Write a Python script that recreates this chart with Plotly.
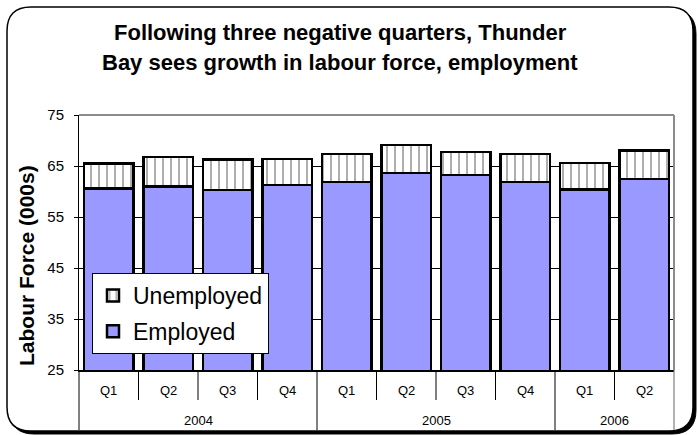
import plotly.graph_objects as go

# Quarterly labour force figures for Thunder Bay (thousands)
quarters = ["Q1", "Q2", "Q3", "Q4", "Q1", "Q2", "Q3", "Q4", "Q1", "Q2"]
years = ["2004", "2004", "2004", "2004", "2005", "2005", "2005", "2005", "2006", "2006"]
employed = [60.6, 61.0, 60.3, 61.3, 61.9, 63.6, 63.2, 61.9, 60.4, 62.5]
unemployed = [4.9, 5.8, 6.0, 5.1, 5.5, 5.5, 4.5, 5.5, 5.2, 5.5]

y_ticks = [25, 35, 45, 55, 65, 75]

FONT = "Liberation Sans, Arial, sans-serif"
W, H = 698, 435
ML, MR, MT, MB = 79, 24, 115, 65
PW, PH = W - ML - MR, H - MT - MB
n = len(quarters)
xpos = list(range(n))


def px(x):
    return (x - ML) / PW


def py(y):
    return (H - MB - y) / PH


def rounded_rect(x0, y0, x1, y1, r):
    pts = [
        ("M", [(x0 + r, y0)]),
        ("L", [(x1 - r, y0)]),
        ("Q", [(x1, y0), (x1, y0 + r)]),
        ("L", [(x1, y1 - r)]),
        ("Q", [(x1, y1), (x1 - r, y1)]),
        ("L", [(x0 + r, y1)]),
        ("Q", [(x0, y1), (x0, y1 - r)]),
        ("L", [(x0, y0 + r)]),
        ("Q", [(x0, y0), (x0 + r, y0)]),
    ]
    s = ""
    for cmd, coords in pts:
        s += cmd + " " + " ".join(f"{px(a):.5f},{py(b):.5f}" for a, b in coords) + " "
    return s + "Z"


fig = go.Figure()
fig.add_trace(go.Bar(
    x=xpos, y=employed, name="Employed", legendgroup="emp", legendrank=2,
    marker=dict(color="#9999FF", line=dict(color="black", width=2.5)),
))
fig.add_trace(go.Bar(
    x=xpos, y=unemployed, name="Unemployed", legendgroup="unemp", legendrank=1,
    marker=dict(color="white", line=dict(color="black", width=2.5),
                pattern=dict(shape="|", size=8, solidity=0.2,
                             fgcolor="#333333", bgcolor="white")),
))

shapes = []
# chart frame with drop shadow
shapes.append(dict(type="path", xref="paper", yref="paper", layer="below",
                   path=rounded_rect(10, 10, 696, 434, 24),
                   fillcolor="black", line=dict(color="black", width=1)))
shapes.append(dict(type="path", xref="paper", yref="paper", layer="below",
                   path=rounded_rect(7, 7, 693, 431, 24),
                   fillcolor="white", line=dict(color="black", width=1.5)))
# plot area border (top and right)
shapes.append(dict(type="line", xref="paper", yref="paper", x0=0, x1=1, y0=1, y1=1,
                   line=dict(color="#8c8c8c", width=2)))
shapes.append(dict(type="line", xref="paper", yref="paper", x0=1, x1=1, y0=0, y1=1,
                   line=dict(color="#8c8c8c", width=2)))


# category separators: quarter level short, year level full depth
def bx(i):
    # boundary to the right of category i, on an axis spanning [-0.5, n-0.5]
    return (i + 1) / n


year_bounds = [-1]
for i in range(1, n):
    if years[i] != years[i - 1]:
        year_bounds.append(i - 1)
year_bounds.append(n - 1)
for i in range(-1, n):
    if i in year_bounds:
        y_end = py(430)
        col = "#666666" if i == n - 1 else "black"
    else:
        y_end = py(400)
        col = "black"
    shapes.append(dict(type="line", xref="paper", yref="paper",
                       x0=bx(i), x1=bx(i), y0=0, y1=y_end,
                       line=dict(color=col, width=1)))

annotations = []
for i, q in enumerate(quarters):
    annotations.append(dict(x=i, y=py(390), xref="x", yref="paper", text=q,
                            showarrow=False, yanchor="middle",
                            font=dict(family=FONT, size=13, color="black")))
groups = {}
for i, yr in enumerate(years):
    groups.setdefault(yr, []).append(i)
for yr, idx in groups.items():
    annotations.append(dict(x=sum(idx) / len(idx), y=py(420), xref="x", yref="paper",
                            text=yr, showarrow=False, yanchor="middle",
                            font=dict(family=FONT, size=13, color="black")))

# title lines
annotations.append(dict(x=px(340), y=py(32), xref="paper", yref="paper",
                        text="<b>Following three negative quarters, Thunder</b>",
                        showarrow=False, yanchor="middle",
                        font=dict(family=FONT, size=22, color="black")))
annotations.append(dict(x=px(340), y=py(62), xref="paper", yref="paper",
                        text="<b>Bay sees growth in labour force, employment</b>",
                        showarrow=False, yanchor="middle",
                        font=dict(family=FONT, size=22, color="black")))
# y axis title
annotations.append(dict(x=px(26), y=py(266), xref="paper", yref="paper",
                        text="<b>Labour Force (000s)</b>", textangle=-90,
                        showarrow=False, xanchor="center", yanchor="middle",
                        font=dict(family=FONT, size=21, color="black")))

fig.update_layout(
    width=W, height=H,
    margin=dict(l=ML, r=MR, t=MT, b=MB, pad=0),
    barmode="stack", bargap=0.176,
    paper_bgcolor="white", plot_bgcolor="white",
    font=dict(family=FONT, color="black"),
    xaxis=dict(range=[-0.5, n - 0.5], showticklabels=False, ticks="",
               showgrid=False, zeroline=False, showline=True,
               linecolor="black", linewidth=2, fixedrange=True),
    yaxis=dict(range=[25, 75], tickvals=y_ticks, ticks="outside", ticklen=4,
               tickcolor="black", tickwidth=1, showgrid=True, gridcolor="black",
               gridwidth=1, zeroline=False, showline=True, linecolor="black",
               linewidth=1, ticklabelstandoff=7,
               tickfont=dict(family=FONT, size=15, color="black"),
               fixedrange=True),
    legend=dict(x=px(92), y=py(273), xanchor="left", yanchor="top",
                traceorder="grouped", tracegroupgap=3, itemwidth=30,
                bgcolor="white", bordercolor="black", borderwidth=1,
                font=dict(family=FONT, size=23, color="black")),
    shapes=shapes,
    annotations=annotations,
    showlegend=True,
)

fig.write_html("out.html")
